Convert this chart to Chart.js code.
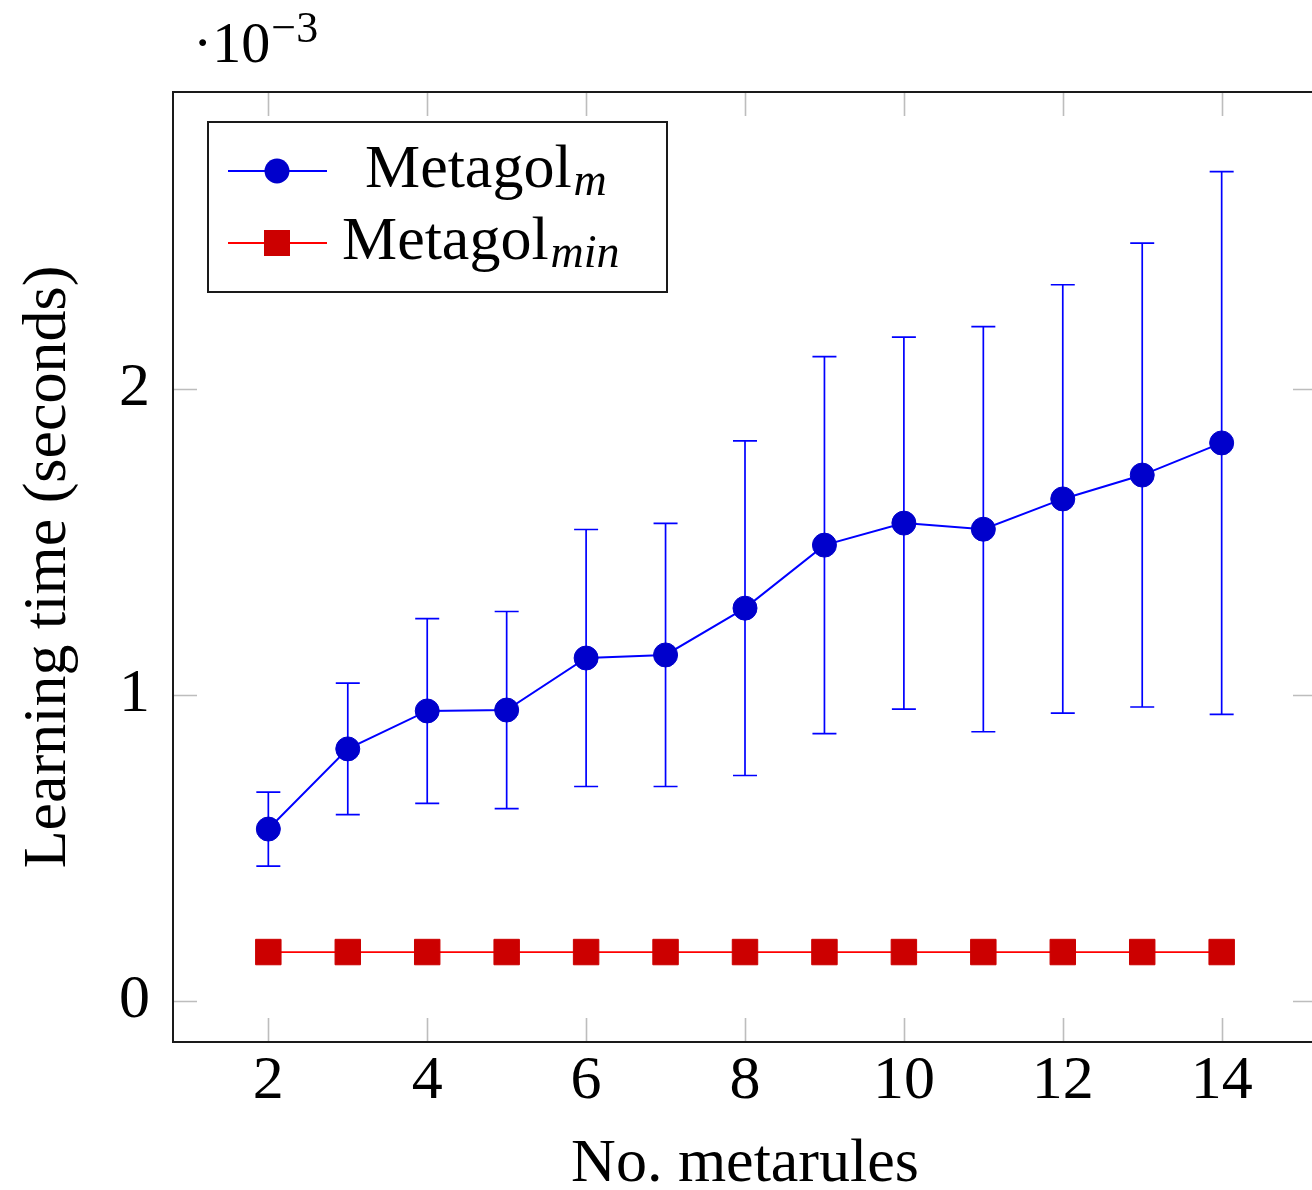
<!DOCTYPE html>
<html>
<head>
<meta charset="utf-8">
<script src="https://cdn.jsdelivr.net/npm/chart.js@4.4.1/dist/chart.umd.min.js"></script>
<style>
html,body{margin:0;padding:0;overflow:hidden;background:#fff;}
#wrap{width:1320px;height:1190px;overflow:hidden;}
canvas{display:block;}
</style>
</head>
<body>
<div id="wrap"><canvas id="c" width="1320" height="1190" style="width:1320px;height:1190px"></canvas></div>
<script>
// ---- data (values in units of 10^-3 seconds) ----
const xValues = [2, 3, 4, 5, 6, 7, 8, 9, 10, 11, 12, 13, 14];
const metagolM = [0.562, 0.824, 0.948, 0.951, 1.121, 1.131, 1.284, 1.490, 1.562, 1.542, 1.641, 1.719, 1.824];
const metagolMErr = [0.121, 0.215, 0.302, 0.322, 0.420, 0.430, 0.547, 0.616, 0.608, 0.662, 0.700, 0.758, 0.887];
const metagolMin = [0.160, 0.160, 0.160, 0.160, 0.160, 0.160, 0.160, 0.160, 0.160, 0.160, 0.160, 0.160, 0.160];
const xTicks = [2, 4, 6, 8, 10, 12, 14];
const yTicks = [0, 1, 2];
const seriesBase = ['Metagol', 'Metagol'];
const seriesSub = ['m', 'min'];
const xTitle = 'No. metarules';
const yTitle = 'Learning time (seconds)';
const scaleLabelBase = '\u00B710';
const scaleLabelExp = '\u22123';

const FONT = '"Liberation Serif", "DejaVu Serif", serif';
const BLUE_LINE = '#0000ff', BLUE_FILL = '#0000cc';
const RED_LINE = '#ff0000', RED_FILL = '#cc0000';

const errorBars = {
  id: 'errorBars',
  beforeDatasetsDraw(chart) {
    const {ctx, scales: {x, y}} = chart;
    ctx.save();
    ctx.strokeStyle = BLUE_LINE;
    ctx.lineWidth = 1.7;
    xValues.forEach((xv, i) => {
      const px = x.getPixelForValue(xv);
      const top = y.getPixelForValue(metagolM[i] + metagolMErr[i]);
      const bot = y.getPixelForValue(metagolM[i] - metagolMErr[i]);
      ctx.beginPath();
      ctx.moveTo(px, top); ctx.lineTo(px, bot);
      ctx.moveTo(px - 12, top); ctx.lineTo(px + 12, top);
      ctx.moveTo(px - 12, bot); ctx.lineTo(px + 12, bot);
      ctx.stroke();
    });
    ctx.restore();
  }
};

const frame = {
  id: 'frame',
  afterDatasetsDraw(chart) {
    const {ctx, chartArea: a, scales: {x, y}} = chart;
    const tl = 24;
    ctx.save();
    ctx.strokeStyle = '#bdbdbd';
    ctx.lineWidth = 1.6;
    ctx.beginPath();
    xTicks.forEach(v => {
      const px = Math.round(x.getPixelForValue(v)) + 0.5;
      ctx.moveTo(px, a.bottom); ctx.lineTo(px, a.bottom - tl);
      ctx.moveTo(px, a.top); ctx.lineTo(px, a.top + tl);
    });
    yTicks.forEach(v => {
      const py = Math.round(y.getPixelForValue(v)) + 0.5;
      ctx.moveTo(a.left, py); ctx.lineTo(a.left + tl, py);
      ctx.moveTo(a.right, py); ctx.lineTo(a.right - tl, py);
    });
    ctx.stroke();
    ctx.strokeStyle = '#1a1a1a';
    ctx.lineWidth = 2;
    ctx.strokeRect(a.left, a.top, a.right - a.left, a.bottom - a.top);
    ctx.restore();
  },
  afterDraw(chart) {
    const {ctx} = chart;
    ctx.save();
    ctx.fillStyle = '#000';
    ctx.textBaseline = 'alphabetic';
    // exponent label
    ctx.font = '58px ' + FONT;
    ctx.textAlign = 'left';
    ctx.fillText(scaleLabelBase, 193, 62);
    const w = ctx.measureText(scaleLabelBase).width;
    ctx.font = '44px ' + FONT;
    ctx.fillText(scaleLabelExp, 193 + w + 1, 42);

    // legend
    const bx = 208, by = 122, bw = 459, bh = 170;
    ctx.fillStyle = '#fff';
    ctx.fillRect(bx, by, bw, bh);
    ctx.strokeStyle = '#1a1a1a';
    ctx.lineWidth = 2;
    ctx.strokeRect(bx, by, bw, bh);
    const rows = [
      {y: 171, line: BLUE_LINE, fill: BLUE_FILL, style: 'circle', tx: 365, base: 187},
      {y: 243, line: RED_LINE, fill: RED_FILL, style: 'rect', tx: 342, base: 259}
    ];
    rows.forEach((r, i) => {
      ctx.strokeStyle = r.line;
      ctx.lineWidth = 1.8;
      ctx.beginPath();
      ctx.moveTo(228, r.y); ctx.lineTo(327, r.y);
      ctx.stroke();
      ctx.fillStyle = r.fill;
      if (r.style === 'circle') {
        ctx.beginPath(); ctx.arc(277, r.y, 12.5, 0, Math.PI * 2); ctx.fill();
      } else {
        ctx.fillRect(277 - 13, r.y - 13, 26, 26);
      }
      ctx.fillStyle = '#000';
      ctx.font = '62px ' + FONT;
      ctx.fillText(seriesBase[i], r.tx, r.base);
      const bw2 = ctx.measureText(seriesBase[i]).width;
      ctx.font = 'italic 46px ' + FONT;
      ctx.fillText(seriesSub[i], r.tx + bw2 + 2, r.base + 8);
    });
    ctx.restore();
  }
};

const tickFont = {family: FONT, size: 62, lineHeight: 1.2};

new Chart(document.getElementById('c'), {
  type: 'line',
  data: {
    datasets: [
      {
        label: seriesBase[0] + '_' + seriesSub[0],
        data: xValues.map((v, i) => ({x: v, y: metagolM[i]})),
        borderColor: BLUE_LINE,
        borderWidth: 2,
        pointStyle: 'circle',
        pointRadius: 12,
        pointBorderWidth: 1,
        pointBackgroundColor: BLUE_FILL,
        pointBorderColor: BLUE_FILL,
        tension: 0,
        clip: false
      },
      {
        label: seriesBase[1] + '_' + seriesSub[1],
        data: xValues.map((v, i) => ({x: v, y: metagolMin[i]})),
        borderColor: RED_LINE,
        borderWidth: 1.8,
        pointStyle: 'rect',
        pointRadius: 18,
        pointBorderWidth: 1,
        pointBackgroundColor: RED_FILL,
        pointBorderColor: RED_FILL,
        tension: 0,
        clip: false
      }
    ]
  },
  options: {
    responsive: false,
    animation: false,
    devicePixelRatio: 1,
    layout: {autoPadding: false, padding: {top: 92, right: 3, left: 0, bottom: 0}},
    plugins: {legend: {display: false}, tooltip: {enabled: false}},
    scales: {
      x: {
        type: 'linear',
        min: 0.8,
        max: 15.2,
        afterBuildTicks: s => { s.ticks = xTicks.map(v => ({value: v})); },
        afterFit: s => { s.height = 148; s.paddingLeft = 0; s.paddingRight = 0; },
        grid: {display: false, drawTicks: false},
        border: {display: false},
        ticks: {font: tickFont, color: '#000', padding: 3, maxRotation: 0, autoSkip: false},
        title: {display: true, text: xTitle, color: '#000', font: {family: FONT, size: 62, lineHeight: 0.8}, padding: {top: 0, bottom: 0}}
      },
      y: {
        type: 'linear',
        min: -0.134,
        max: 2.971,
        afterBuildTicks: s => { s.ticks = yTicks.map(v => ({value: v})); },
        afterFit: s => { s.width = 173; s.paddingTop = 0; s.paddingBottom = 0; },
        grid: {display: false, drawTicks: false},
        border: {display: false},
        ticks: {font: tickFont, color: '#000', padding: 23, autoSkip: false},
        title: {display: true, text: yTitle, color: '#000', font: {family: FONT, size: 62, lineHeight: 1}, padding: {top: 18, bottom: 0}}
      }
    }
  },
  plugins: [errorBars, frame]
});
</script>
</body>
</html>
